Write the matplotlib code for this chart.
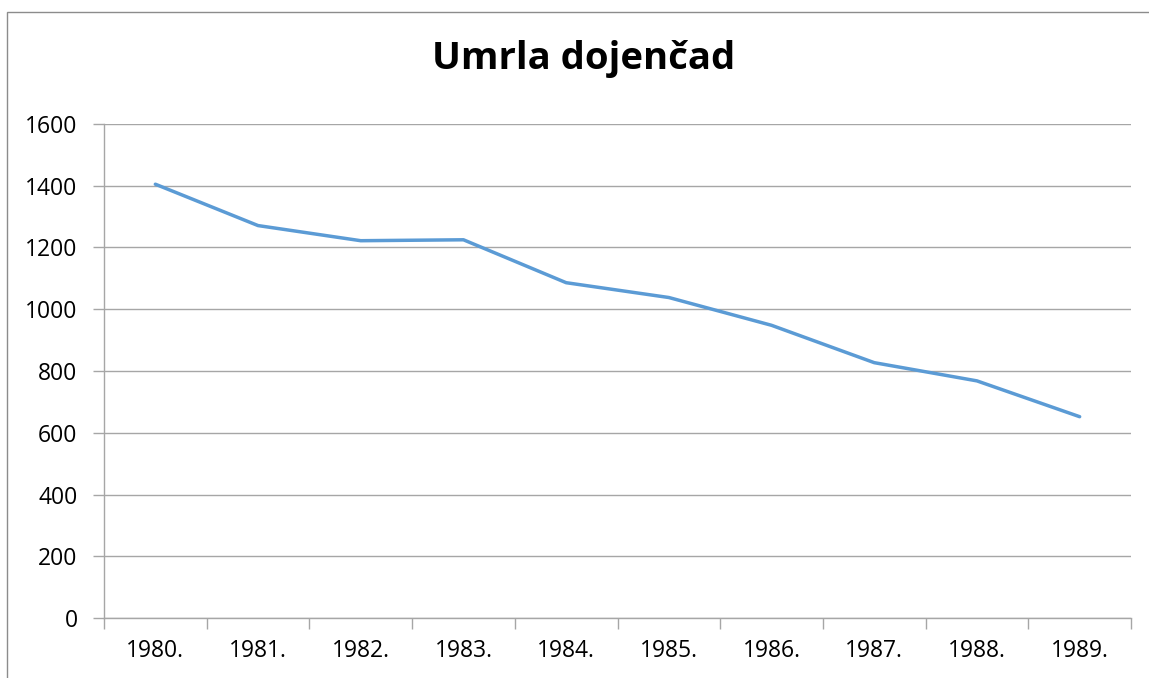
import matplotlib
matplotlib.use("Agg")
import matplotlib.pyplot as plt
from matplotlib.patches import Rectangle
import numpy as np

years = ["1980.", "1981.", "1982.", "1983.", "1984.", "1985.", "1986.", "1987.", "1988.", "1989."]
deaths = [1405, 1271, 1222, 1225, 1086, 1038, 948, 827, 768, 652]
y_ticks = [0, 200, 400, 600, 800, 1000, 1200, 1400, 1600]
title = "Umrla dojenčad"

plt.rcParams['font.family'] = ['Open Sans', 'DejaVu Sans']

W, H = 1149, 678
fig = plt.figure(figsize=(W / 100, H / 100), dpi=100)
fig.patch.set_facecolor("white")

# chart border (left/top visible)
fig.patches.append(Rectangle((7 / W, -0.05), 1.2, 1 - 12 / H + 0.05, transform=fig.transFigure,
                             fill=False, edgecolor="#8c8c8c", linewidth=1.0))

ax = fig.add_axes([104 / W, (H - 618) / H, 1027 / W, 494 / H])
x = np.arange(len(years))
grid_color = "#a6a6a6"

ax.plot(x, deaths, color="#5B9BD5", linewidth=2.5, solid_joinstyle="round", solid_capstyle="round", zorder=3)

ax.set_xlim(-0.5, len(years) - 0.5)
ax.set_ylim(0, 1600)
ax.set_yticks(y_ticks)
ax.set_yticklabels([str(v) for v in y_ticks], fontsize=16.5)
ax.set_xticks(x)
ax.set_xticklabels(years, fontsize=16.5)
ax.set_xticks(np.arange(-0.5, len(years)), minor=True)
ax.tick_params(axis="x", which="major", length=0, pad=15)
ax.tick_params(axis="x", which="minor", length=8, color=grid_color, width=1)
ax.tick_params(axis="y", length=8, color=grid_color, width=1, pad=11)

for v in y_ticks:
    ax.axhline(v, color=grid_color, linewidth=1, zorder=1)

for s in ["top", "right"]:
    ax.spines[s].set_visible(False)
for s in ["left", "bottom"]:
    ax.spines[s].set_color(grid_color)
    ax.spines[s].set_linewidth(1)

fig.text(584 / W, 1 - 69 / H, title, ha="center", va="baseline", fontsize=27.5, fontweight="bold")

fig.savefig("out.png", dpi=100, facecolor="white")
